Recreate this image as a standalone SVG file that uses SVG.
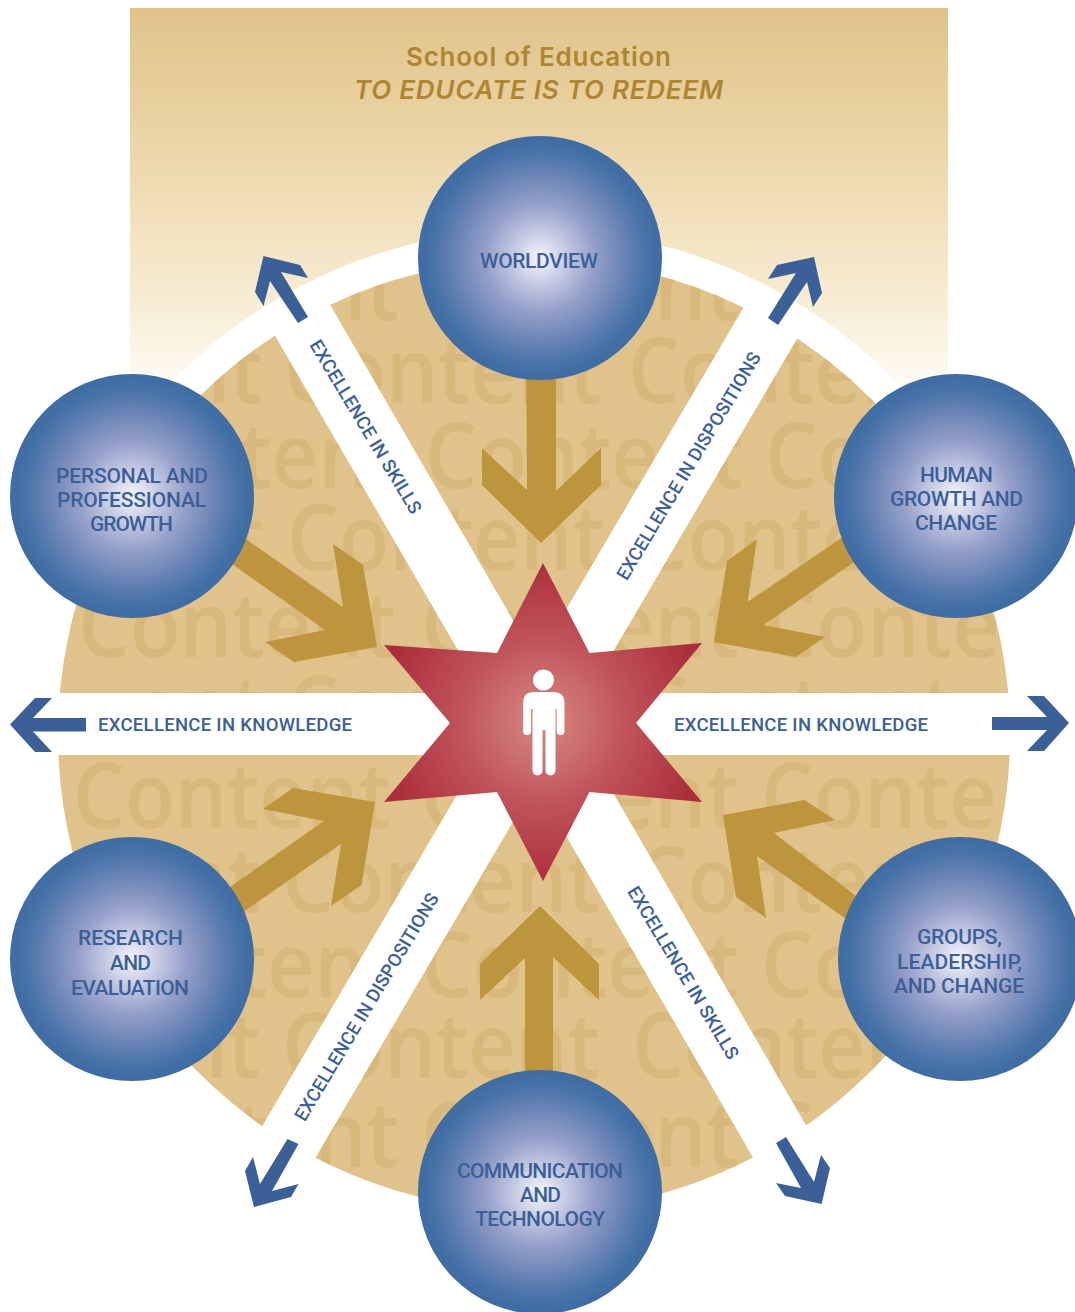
<svg xmlns="http://www.w3.org/2000/svg" width="1075" height="1312" viewBox="0 0 1075 1312">
<style>
.wm{font-family:"Open Sans","Noto Sans",sans-serif;font-size:91px;font-weight:600;fill:#d8b87b}
.tan{fill:#bd953d}
.blue{fill:#3b6097}
.node{font-family:"Roboto","Liberation Sans",sans-serif;font-size:21px;font-weight:500;fill:#3b5f98;text-anchor:middle}
.band{font-family:"Roboto","Liberation Sans",sans-serif;font-size:18.5px;font-weight:500;fill:#3b5f98;text-anchor:middle}
.title{font-family:"Inter","Liberation Sans",sans-serif;font-size:26px;font-weight:600;fill:#ae8632;text-anchor:middle}
</style>
<defs>
<linearGradient id="sky" x1="0" y1="8" x2="0" y2="385" gradientUnits="userSpaceOnUse">
<stop offset="0" stop-color="#e0c38a"/><stop offset="0.35" stop-color="#ebd5a6"/><stop offset="0.7" stop-color="#f5e8ca"/><stop offset="1" stop-color="#fefbf3"/>
</linearGradient>
<radialGradient id="ball" cx="0.5" cy="0.5" r="0.5">
<stop offset="0" stop-color="#f5f5fc"/><stop offset="0.22" stop-color="#c5cae3"/><stop offset="0.45" stop-color="#949fc8"/><stop offset="0.7" stop-color="#6783b4"/><stop offset="0.9" stop-color="#4471a7"/><stop offset="1" stop-color="#3e6ca3"/>
</radialGradient>
<radialGradient id="starfill" cx="543" cy="722" r="165" gradientUnits="userSpaceOnUse">
<stop offset="0" stop-color="#d68a84"/><stop offset="0.5" stop-color="#c0545a"/><stop offset="1" stop-color="#ab2c3c"/>
</radialGradient>
<clipPath id="disc"><circle cx="534" cy="735" r="476"/></clipPath>
</defs>
<rect width="1075" height="1312" fill="#fff"/>
<rect x="130" y="8" width="818" height="377" fill="url(#sky)"/>
<circle cx="534" cy="735" r="506" fill="#fff"/>
<circle cx="534" cy="735" r="476" fill="#e0c38a"/>
<g id="watermark" clip-path="url(#disc)">
<text class="wm" x="81" y="320" textLength="318" lengthAdjust="spacingAndGlyphs">Content</text>
<text class="wm" x="421" y="320" textLength="318" lengthAdjust="spacingAndGlyphs">Content</text>
<text class="wm" x="761" y="320" textLength="236" lengthAdjust="spacingAndGlyphs">Conte</text>
<text class="wm" x="132" y="403" textLength="130" lengthAdjust="spacingAndGlyphs">ent</text>
<text class="wm" x="284" y="403" textLength="318" lengthAdjust="spacingAndGlyphs">Content</text>
<text class="wm" x="628" y="403" textLength="318" lengthAdjust="spacingAndGlyphs">Content</text>
<text class="wm" x="85" y="488" textLength="318" lengthAdjust="spacingAndGlyphs">Content</text>
<text class="wm" x="425" y="488" textLength="318" lengthAdjust="spacingAndGlyphs">Content</text>
<text class="wm" x="765" y="488" textLength="236" lengthAdjust="spacingAndGlyphs">Conte</text>
<text class="wm" x="134" y="570" textLength="130" lengthAdjust="spacingAndGlyphs">ent</text>
<text class="wm" x="287" y="570" textLength="318" lengthAdjust="spacingAndGlyphs">Content</text>
<text class="wm" x="636" y="570" textLength="318" lengthAdjust="spacingAndGlyphs">Content</text>
<text class="wm" x="78" y="657" textLength="318" lengthAdjust="spacingAndGlyphs">Content</text>
<text class="wm" x="421" y="657" textLength="318" lengthAdjust="spacingAndGlyphs">Content</text>
<text class="wm" x="764" y="657" textLength="236" lengthAdjust="spacingAndGlyphs">Conte</text>
<text class="wm" x="134" y="741" textLength="130" lengthAdjust="spacingAndGlyphs">ent</text>
<text class="wm" x="287" y="741" textLength="318" lengthAdjust="spacingAndGlyphs">Content</text>
<text class="wm" x="636" y="741" textLength="318" lengthAdjust="spacingAndGlyphs">Content</text>
<text class="wm" x="73" y="828" textLength="318" lengthAdjust="spacingAndGlyphs">Content</text>
<text class="wm" x="421" y="828" textLength="318" lengthAdjust="spacingAndGlyphs">Content</text>
<text class="wm" x="761" y="828" textLength="236" lengthAdjust="spacingAndGlyphs">Conte</text>
<text class="wm" x="130" y="912" textLength="130" lengthAdjust="spacingAndGlyphs">ent</text>
<text class="wm" x="282" y="912" textLength="318" lengthAdjust="spacingAndGlyphs">Content</text>
<text class="wm" x="636" y="912" textLength="318" lengthAdjust="spacingAndGlyphs">Content</text>
<text class="wm" x="81" y="997" textLength="318" lengthAdjust="spacingAndGlyphs">Content</text>
<text class="wm" x="421" y="997" textLength="318" lengthAdjust="spacingAndGlyphs">Content</text>
<text class="wm" x="761" y="997" textLength="236" lengthAdjust="spacingAndGlyphs">Conte</text>
<text class="wm" x="130" y="1078" textLength="130" lengthAdjust="spacingAndGlyphs">ent</text>
<text class="wm" x="282" y="1078" textLength="318" lengthAdjust="spacingAndGlyphs">Content</text>
<text class="wm" x="632" y="1078" textLength="318" lengthAdjust="spacingAndGlyphs">Content</text>
<text class="wm" x="81" y="1167" textLength="318" lengthAdjust="spacingAndGlyphs">Content</text>
<text class="wm" x="421" y="1167" textLength="318" lengthAdjust="spacingAndGlyphs">Content</text>
<text class="wm" x="761" y="1167" textLength="236" lengthAdjust="spacingAndGlyphs">Conte</text>
</g>
<g id="bands" fill="#fff">
<rect x="0" y="693" width="1075" height="62"/>
<polygon points="325,296 270,327 758,1166 811,1134"/>
<polygon points="748,300 801,332 310,1167 257,1135"/>
</g>
<g id="title">
<text class="title" x="538.5" y="66" textLength="265">School of Education</text>
<text class="title" x="538.5" y="99" font-style="italic" textLength="369">TO EDUCATE IS TO REDEEM</text>
</g>
<g id="connectors">
<polygon class="tan" points="526,340 556,340 556,491 601,448 601,485 541,543 482,485 482,448 527,490"/>
<polygon class="tan" points="525,1110 553,1110 553,957 599,1000 599,964 540,906 480,964 480,1000 525,958"/>
<polygon class="tan" points="200,507 343,607 333,544 363,565 377,647 294,662 265,642 325,630 190,534"/>
<polygon class="tan" points="890,505 747.5,602 757,539 727,561 714,642 796,657 825,637 763.5,625 900,530"/>
<polygon class="tan" points="190,915 324,821 263,809 293,788 375,802 361.6,885 331,906 341,844 200,942"/>
<polygon class="tan" points="900,930 774,833 835,820 804.5,800 723,815 736,897 766,918 757,856 890,950"/>
<polygon class="blue" points="308,317 281,272 308,278 300,265 263.5,256 255,292 263.5,306 270,281 298,323"/>
<polygon class="blue" points="768,318 796,273 768,279 777,265 814,257 822,293 813,307 807,282 778,325"/>
<polygon class="blue" points="287.5,1139 260,1184 253,1157 245,1171 254,1207 291,1197 298.5,1184 272,1191 298.5,1144"/>
<polygon class="blue" points="776,1143 801,1188 776,1183 785,1196 821.6,1204 830,1168 821,1155 814,1182 786,1137"/>
<polygon class="blue" points="86,718 33,718 52,698 35,698 10,724.5 35,752 52,752 33,731.5 86,731.5"/>
<polygon class="blue" points="992,717 1047,717 1027,696 1044,696 1069,723 1044,751 1027,751 1047,730 992,730"/>
</g>
<g id="band-labels">
<text class="band" x="225" y="731" textLength="254">EXCELLENCE IN KNOWLEDGE</text>
<text class="band" x="801" y="731" textLength="254">EXCELLENCE IN KNOWLEDGE</text>
<text class="band" transform="translate(365.5,427) rotate(59)" y="6" textLength="199">EXCELLENCE IN SKILLS</text>
<text class="band" transform="translate(683,973) rotate(59)" y="6" textLength="198">EXCELLENCE IN SKILLS</text>
<text class="band" transform="translate(689,466) rotate(-59)" y="6" textLength="262">EXCELLENCE IN DISPOSITIONS</text>
<text class="band" transform="translate(367,1007) rotate(-59)" y="6" textLength="262">EXCELLENCE IN DISPOSITIONS</text>
</g>
<g id="center">
<polygon fill="url(#starfill)" points="543,563 589.5,653 702,643 636,723 702,802 589.5,792 543,881 497,792 384,802 450,723 384,645 497,653"/>
<circle cx="543.5" cy="680" r="10.5" fill="#fff"/>
<path fill="#fff" d="M534,692H553Q564.5,692 564.5,703V731a3.9,3.9 0 0 1-7.8,0V709H555.5V770.5a5,5 0 0 1-10,0V730H542.5V770.5a5,5 0 0 1-10,0V709H531V731a3.9,3.9 0 0 1-7.8,0V703Q523.2,692 534,692Z"/>
</g>
<g id="worldview">
<circle cx="540" cy="258" r="122" fill="url(#ball)"/>
<text class="node" x="539" y="268" textLength="118">WORLDVIEW</text>
</g>
<g id="personal">
<circle cx="132" cy="496" r="122" fill="url(#ball)"/>
<text class="node" x="132" y="483" textLength="152">PERSONAL AND</text>
<text class="node" x="131.5" y="507" textLength="149">PROFESSIONAL</text>
<text class="node" x="131.5" y="531" textLength="83">GROWTH</text>
</g>
<g id="human">
<circle cx="956" cy="496" r="122" fill="url(#ball)"/>
<text class="node" x="956.5" y="482" textLength="73">HUMAN</text>
<text class="node" x="956.5" y="506" textLength="133">GROWTH AND</text>
<text class="node" x="956" y="530" textLength="82">CHANGE</text>
</g>
<g id="research">
<circle cx="132" cy="959" r="122" fill="url(#ball)"/>
<text class="node" x="130.5" y="945" textLength="105">RESEARCH</text>
<text class="node" x="130.5" y="970" textLength="41">AND</text>
<text class="node" x="130" y="995" textLength="118">EVALUATION</text>
</g>
<g id="groups">
<circle cx="960" cy="959" r="122" fill="url(#ball)"/>
<text class="node" x="959.5" y="944" textLength="85">GROUPS,</text>
<text class="node" x="959.5" y="969" textLength="125">LEADERSHIP,</text>
<text class="node" x="959" y="993" textLength="130">AND CHANGE</text>
</g>
<g id="communication">
<circle cx="540" cy="1192" r="122" fill="url(#ball)"/>
<text class="node" x="540" y="1178" textLength="166">COMMUNICATION</text>
<text class="node" x="540.5" y="1202" textLength="41">AND</text>
<text class="node" x="540" y="1226" textLength="130">TECHNOLOGY</text>
</g>
</svg>
